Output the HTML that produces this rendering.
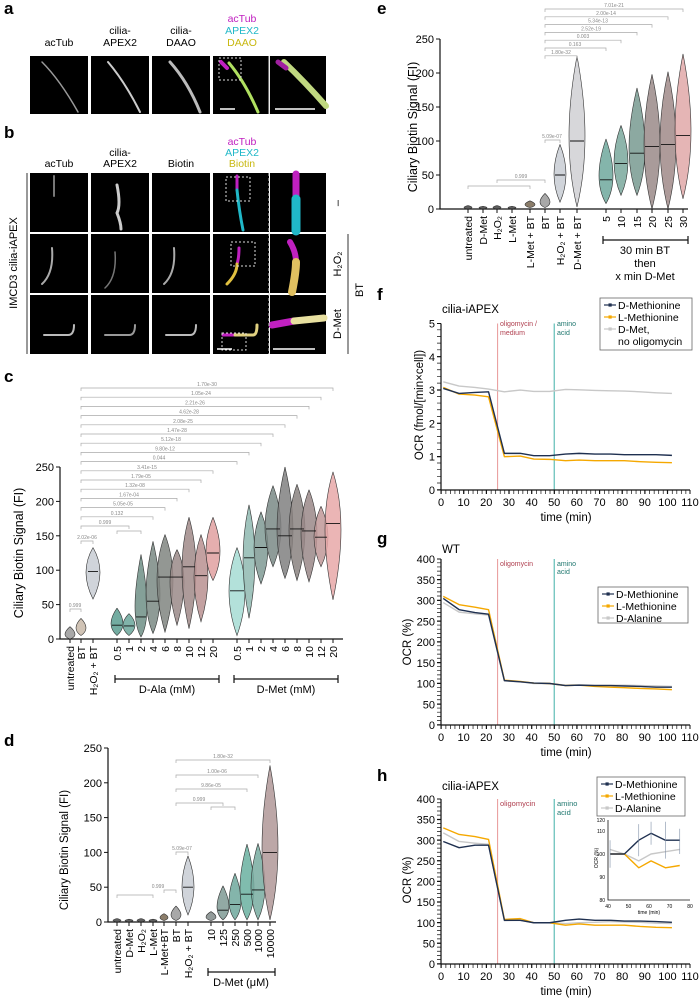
<!DOCTYPE html>
<html><head><meta charset="utf-8"><style>
body{margin:0;background:#fff;}
svg{display:block;font-family:"Liberation Sans","DejaVu Sans",sans-serif;}
.v{stroke:#333;stroke-width:0.6;fill-opacity:0.85;vector-effect:non-scaling-stroke;}
.v path{vector-effect:non-scaling-stroke;}
.ns{vector-effect:non-scaling-stroke;}
.m{stroke:#111;stroke-width:1.3;vector-effect:non-scaling-stroke;fill:none;}
.cp{stroke:#aaa;stroke-width:0.7;fill:none;}
.ct{font-size:5px;fill:#888;text-anchor:middle;}
.ax{stroke:#111;stroke-width:1.2;fill:none;}
.tk{stroke:#111;stroke-width:1;}
.yl{font-size:11px;text-anchor:end;}
.cl{font-size:10.5px;text-anchor:end;}
.xl{font-size:11px;text-anchor:middle;}
.s{fill:none;stroke-width:1.4;vector-effect:non-scaling-stroke;stroke-linejoin:round;}
</style></head><body>
<svg width="700" height="1000" viewBox="0 0 700 1000" xmlns="http://www.w3.org/2000/svg">
<rect width="700" height="1000" fill="#fff"/>
<g font-size="17" font-weight="bold">
<text x="4" y="14">a</text><text x="4" y="138">b</text><text x="4" y="382">c</text><text x="4" y="746">d</text>
<text x="377" y="14">e</text><text x="377" y="300">f</text><text x="377" y="544">g</text><text x="377" y="781">h</text></g>

<!-- panel a -->
<g font-size="10.5" text-anchor="middle">
<text x="59" y="46">acTub</text><text x="120" y="34">cilia-</text><text x="120" y="46">APEX2</text>
<text x="181" y="34">cilia-</text><text x="181" y="46">DAAO</text>
<text x="242" y="22" fill="#c020c0">acTub</text><text x="242" y="34" fill="#20b8c8">APEX2</text><text x="242" y="46" fill="#c8b810">DAAO</text>
</g>
<g fill="#000">
<rect x="30" y="56" width="58" height="58"/><rect x="91" y="56" width="58" height="58"/><rect x="152" y="56" width="58" height="58"/><rect x="213" y="56" width="56" height="58"/><rect x="270" y="56" width="56" height="58"/>
</g>
<g fill="none" stroke-linecap="round">
<path d="M42 62 Q60 80 78 112" stroke="#999" stroke-width="1.5"/>
<path d="M108 62 Q125 82 140 112" stroke="#ccc" stroke-width="2"/>
<path d="M170 62 Q188 82 200 112" stroke="#bbb" stroke-width="3"/>
<path d="M229 63 Q245 82 258 112" stroke="#b0e060" stroke-width="3"/>
<path d="M221 62 l6 6" stroke="#c020c0" stroke-width="4"/>
<path d="M284 62 Q305 82 326 106" stroke="#c0d880" stroke-width="6"/>
<path d="M278 62 l8 6" stroke="#a020a0" stroke-width="5"/>
</g>
<rect x="219" y="58" width="22" height="22" fill="none" stroke="#ddd" stroke-dasharray="2,2"/>
<line x1="269" y1="56" x2="269" y2="114" stroke="#ddd"/>
<line x1="220" y1="109" x2="235" y2="109" stroke="#fff" stroke-width="1.5"/>
<line x1="275" y1="109" x2="315" y2="109" stroke="#fff" stroke-width="1.5"/>

<!-- panel b -->
<g font-size="10.5" text-anchor="middle">
<text x="59" y="167">acTub</text><text x="120" y="156">cilia-</text><text x="120" y="167">APEX2</text><text x="181" y="167">Biotin</text>
<text x="242" y="145" fill="#c020c0">acTub</text><text x="242" y="156" fill="#20b8c8">APEX2</text><text x="242" y="167" fill="#c8b810">Biotin</text>
</g>
<g fill="#000">
<rect x="30" y="173" width="58" height="59"/><rect x="91" y="173" width="58" height="59"/><rect x="152" y="173" width="58" height="59"/><rect x="213" y="173" width="56" height="59"/><rect x="270" y="173" width="56" height="59"/>
<rect x="30" y="234" width="58" height="59"/><rect x="91" y="234" width="58" height="59"/><rect x="152" y="234" width="58" height="59"/><rect x="213" y="234" width="56" height="59"/><rect x="270" y="234" width="56" height="59"/>
<rect x="30" y="295" width="58" height="59"/><rect x="91" y="295" width="58" height="59"/><rect x="152" y="295" width="58" height="59"/><rect x="213" y="295" width="56" height="59"/><rect x="270" y="295" width="56" height="59"/>
</g>
<g fill="none" stroke-linecap="round">
<path d="M54 176 v20" stroke="#777" stroke-width="2"/>
<path d="M117 185 q4 20 0 28 q4 10 4 16" stroke="#ccc" stroke-width="3"/>
<path d="M237 176 v14" stroke="#c020c0" stroke-width="3"/>
<path d="M237 190 q2 20 6 40" stroke="#20b8c8" stroke-width="3"/>
<path d="M296 174 v25" stroke="#c020c0" stroke-width="7"/>
<path d="M296 199 v32" stroke="#20b8c8" stroke-width="9"/>
<path d="M52 248 q2 25 -10 36" stroke="#aaa" stroke-width="2"/>
<path d="M115 252 q2 25 -10 36" stroke="#777" stroke-width="1.5"/>
<path d="M174 248 q2 25 -10 36" stroke="#aaa" stroke-width="2"/>
<path d="M239 248 q0 10 -2 16" stroke="#c020c0" stroke-width="3"/>
<path d="M237 264 q0 10 -10 20" stroke="#e0c040" stroke-width="3"/>
<path d="M290 242 q6 10 6 20" stroke="#c020c0" stroke-width="6"/>
<path d="M296 262 q0 10 -4 30" stroke="#e0c060" stroke-width="8"/>
<path d="M44 335 h24 q6 0 6 -10" stroke="#bbb" stroke-width="2"/>
<path d="M105 335 h24 q6 0 6 -10" stroke="#999" stroke-width="2"/>
<path d="M166 335 h24 q6 0 6 -10" stroke="#bbb" stroke-width="2"/>
<path d="M223 335 h12" stroke="#c020c0" stroke-width="3"/>
<path d="M235 335 h18 q4 0 4 -10" stroke="#e0d080" stroke-width="3"/>
<path d="M272 325 l22 -4" stroke="#c020c0" stroke-width="7"/>
<path d="M294 321 l30 -3" stroke="#e8e0a0" stroke-width="7"/>
</g>
<rect x="226" y="177" width="24" height="24" fill="none" stroke="#ddd" stroke-dasharray="2,2"/>
<rect x="231" y="242" width="24" height="24" fill="none" stroke="#ddd" stroke-dasharray="2,2"/>
<rect x="222" y="333" width="24" height="17" fill="none" stroke="#ddd" stroke-dasharray="2,2"/>
<line x1="269" y1="173" x2="269" y2="354" stroke="#ddd" stroke-dasharray="3,2"/>
<line x1="217" y1="349" x2="232" y2="349" stroke="#fff" stroke-width="1.5"/>
<line x1="273" y1="349" x2="315" y2="349" stroke="#fff" stroke-width="1.5"/>
<line x1="27" y1="173" x2="27" y2="354" stroke="#333"/>
<text font-size="11" text-anchor="middle" transform="translate(17 263) rotate(-90)">IMCD3 cilia-iAPEX</text>
<g font-size="11" text-anchor="middle">
<text transform="translate(341 203) rotate(-90)">–</text>
<text transform="translate(341 264) rotate(-90)">H₂O₂</text>
<text transform="translate(341 324) rotate(-90)">D-Met</text>
<text transform="translate(363 290) rotate(-90)">BT</text></g>
<line x1="348" y1="234" x2="348" y2="354" stroke="#333"/>

<!-- panel c -->
<path class="ax" d="M60 467 V639 H343"/>
<g class="tk"><line x1="56" y1="639" x2="60" y2="639"/><line x1="56" y1="604.6" x2="60" y2="604.6"/><line x1="56" y1="570.2" x2="60" y2="570.2"/><line x1="56" y1="535.8" x2="60" y2="535.8"/><line x1="56" y1="501.4" x2="60" y2="501.4"/><line x1="56" y1="467" x2="60" y2="467"/></g>
<g class="yl" font-size="11.5"><text x="54" y="643">0</text><text x="54" y="608.6">50</text><text x="54" y="574.2">100</text><text x="54" y="539.8">150</text><text x="54" y="505.4">200</text><text x="54" y="471">250</text></g>
<text font-size="12.5" text-anchor="middle" transform="translate(23 553) rotate(-90)">Ciliary Biotin Signal (FI)</text>
<g class="v">
<path transform="translate(70 639) scale(5 -0.688)" d="M0 18 Q2 5 0 0 Q-2 5 0 18" fill="#999"/>
<path transform="translate(81 639) scale(5 -0.688)" d="M0 30 Q2 15 0 5 Q-2 15 0 30" fill="#c8b8a8"/>
<path transform="translate(93 639) scale(7 -0.688)" d="M0 133 Q2 98 0 58 Q-2 98 0 133" fill="#c8ccd4"/>
<path transform="translate(117 639) scale(6 -0.688)" d="M0 45 Q2 20 0 5 Q-2 20 0 45" fill="#5a9e90"/>
<path transform="translate(129 639) scale(6 -0.688)" d="M0 37 Q2 19 0 5 Q-2 19 0 37" fill="#6aa69a"/>
<path transform="translate(141 639) scale(6 -0.688)" d="M0 123 Q2 32 0 3 Q-2 32 0 123" fill="#6f8f86"/>
<path transform="translate(153 639) scale(7 -0.688)" d="M0 142 Q2 55 0 8 Q-2 55 0 142" fill="#7a8a84"/>
<path transform="translate(165 639) scale(8 -0.688)" d="M0 152 Q2 90 0 10 Q-2 90 0 152" fill="#808580"/>
<path transform="translate(177 639) scale(7 -0.688)" d="M0 130 Q2 90 0 20 Q-2 90 0 130" fill="#9a8a88"/>
<path transform="translate(189 639) scale(7 -0.688)" d="M0 177 Q2 105 0 15 Q-2 105 0 177" fill="#a08a88"/>
<path transform="translate(201 639) scale(7 -0.688)" d="M0 152 Q2 92 0 25 Q-2 92 0 152" fill="#b89090"/>
<path transform="translate(213 639) scale(7 -0.688)" d="M0 177 Q2 125 0 85 Q-2 125 0 177" fill="#e0a0a0"/>
<path transform="translate(237 639) scale(8 -0.688)" d="M0 133 Q2 70 0 5 Q-2 70 0 133" fill="#a6dcd4"/>
<path transform="translate(249 639) scale(6 -0.688)" d="M0 195 Q2 118 0 30 Q-2 118 0 195" fill="#8fb8b0"/>
<path transform="translate(261 639) scale(7 -0.688)" d="M0 185 Q2 133 0 80 Q-2 133 0 185" fill="#7f9a94"/>
<path transform="translate(273 639) scale(8 -0.688)" d="M0 223 Q2 160 0 105 Q-2 160 0 223" fill="#7a8a86"/>
<path transform="translate(285 639) scale(8 -0.688)" d="M0 250 Q2 150 0 88 Q-2 150 0 250" fill="#808080"/>
<path transform="translate(297 639) scale(8 -0.688)" d="M0 225 Q2 160 0 85 Q-2 160 0 225" fill="#8a8280"/>
<path transform="translate(309 639) scale(8 -0.688)" d="M0 217 Q2 157 0 83 Q-2 157 0 217" fill="#9a8888"/>
<path transform="translate(321 639) scale(7 -0.688)" d="M0 193 Q2 148 0 105 Q-2 148 0 193" fill="#c09898"/>
<path transform="translate(333 639) scale(8 -0.688)" d="M0 243 Q2 168 0 57 Q-2 168 0 243" fill="#e8a8a8"/>
</g>
<g class="m">
<path transform="translate(0 639) scale(1 -0.688)" d="M88 98 H98 M112 20 H122 M124 19 H134 M136 32 H146 M147 55 H159 M158 90 H172 M171 90 H183 M183 105 H195 M195 92 H207 M207 125 H219 M230 70 H244 M244 118 H254 M255 133 H267 M266 160 H280 M278 150 H292 M290 160 H304 M302 157 H316 M315 148 H327 M326 168 H340"/>
</g>
<g class="tk"><path d="M70 639v4M81 639v4M93 639v4M117 639v4M129 639v4M141 639v4M153 639v4M165 639v4M177 639v4M189 639v4M201 639v4M213 639v4M237 639v4M249 639v4M261 639v4M273 639v4M285 639v4M297 639v4M309 639v4M321 639v4M333 639v4"/></g>
<g class="cl">
<text transform="translate(74 646) rotate(-90)">untreated</text><text transform="translate(85 646) rotate(-90)">BT</text><text transform="translate(97 646) rotate(-90)">H₂O₂ + BT</text>
<text transform="translate(121 646) rotate(-90)">0.5</text><text transform="translate(133 646) rotate(-90)">1</text><text transform="translate(145 646) rotate(-90)">2</text><text transform="translate(157 646) rotate(-90)">4</text><text transform="translate(169 646) rotate(-90)">6</text><text transform="translate(181 646) rotate(-90)">8</text><text transform="translate(193 646) rotate(-90)">10</text><text transform="translate(205 646) rotate(-90)">12</text><text transform="translate(217 646) rotate(-90)">20</text>
<text transform="translate(241 646) rotate(-90)">0.5</text><text transform="translate(253 646) rotate(-90)">1</text><text transform="translate(265 646) rotate(-90)">2</text><text transform="translate(277 646) rotate(-90)">4</text><text transform="translate(289 646) rotate(-90)">6</text><text transform="translate(301 646) rotate(-90)">8</text><text transform="translate(313 646) rotate(-90)">10</text><text transform="translate(325 646) rotate(-90)">12</text><text transform="translate(337 646) rotate(-90)">20</text>
</g>
<path class="ax" d="M115 675v8M115 679H219M219 675v8M234 675v8M234 679H338M338 675v8"/>
<text class="xl" x="167" y="693">D-Ala (mM)</text><text class="xl" x="286" y="693">D-Met (mM)</text>
<g>
<path class="cp" d="M81 391V388H333V391M81 400.2V397.2H321V400.2M81 409.4V406.4H309V409.4M81 418.6V415.6H297V418.6M81 427.8V424.8H285V427.8M81 437V434H273V437M81 446.2V443.2H261V446.2M81 455.4V452.4H249V455.4M81 464.6V461.6H237V464.6M81 473.8V470.8H213V473.8M81 483V480H201V483M81 492.2V489.2H189V492.2M81 501.4V498.4H177V501.4M81 510.6V507.6H165V510.6M81 519.8V516.8H153V519.8M81 529V526H129V529M117 534V531H141V534M81 544V541H93V544M70 612V609H81V612"/>
<g class="ct"><text x="207" y="386">1.70e-30</text><text x="201" y="395.2">1.05e-24</text><text x="195" y="404.4">2.21e-26</text><text x="189" y="413.6">4.62e-28</text><text x="183" y="422.8">2.08e-25</text><text x="177" y="432">1.47e-28</text><text x="171" y="441.2">5.12e-18</text><text x="165" y="450.4">9.80e-12</text><text x="159" y="459.6">0.044</text><text x="147" y="468.8">3.41e-15</text><text x="141" y="478">1.79e-05</text><text x="135" y="487.2">1.32e-08</text><text x="129" y="496.4">1.67e-04</text><text x="123" y="505.6">5.05e-05</text><text x="117" y="514.8">0.132</text><text x="105" y="524">0.999</text><text x="87" y="539">2.02e-06</text><text x="75" y="607">0.999</text></g>
</g>

<!-- panel d -->
<path class="ax" d="M108 748 V922 H276"/>
<g class="tk"><line x1="104" y1="922" x2="108" y2="922"/><line x1="104" y1="887.2" x2="108" y2="887.2"/><line x1="104" y1="852.4" x2="108" y2="852.4"/><line x1="104" y1="817.6" x2="108" y2="817.6"/><line x1="104" y1="782.8" x2="108" y2="782.8"/><line x1="104" y1="748" x2="108" y2="748"/></g>
<g class="yl"><text x="102" y="926">0</text><text x="102" y="891.2">50</text><text x="102" y="856.4">100</text><text x="102" y="821.6">150</text><text x="102" y="786.8">200</text><text x="102" y="752">250</text></g>
<text font-size="11.5" text-anchor="middle" transform="translate(68 850) rotate(-90)">Ciliary Biotin Signal (FI)</text>
<g class="v">
<path transform="translate(117 922) scale(4 -0.696)" d="M0 5 Q2 2 0 0 Q-2 2 0 5" fill="#444"/>
<path transform="translate(129 922) scale(4 -0.696)" d="M0 4 Q2 2 0 0 Q-2 2 0 4" fill="#444"/>
<path transform="translate(141 922) scale(4 -0.696)" d="M0 5 Q2 2 0 0 Q-2 2 0 5" fill="#444"/>
<path transform="translate(153 922) scale(4 -0.696)" d="M0 4 Q2 2 0 0 Q-2 2 0 4" fill="#444"/>
<path transform="translate(164 922) scale(4 -0.696)" d="M0 12 Q2 6 0 2 Q-2 6 0 12" fill="#776650"/>
<path transform="translate(176 922) scale(5 -0.696)" d="M0 23 Q2 8 0 2 Q-2 8 0 23" fill="#999"/>
<path transform="translate(188 922) scale(6 -0.696)" d="M0 95 Q2 50 0 10 Q-2 50 0 95" fill="#c8ccd4"/>
<path transform="translate(211 922) scale(5 -0.696)" d="M0 15 Q2 6 0 2 Q-2 6 0 15" fill="#808a88"/>
<path transform="translate(223 922) scale(6 -0.696)" d="M0 52 Q2 17 0 3 Q-2 17 0 52" fill="#7f9a94"/>
<path transform="translate(235 922) scale(6 -0.696)" d="M0 70 Q2 25 0 3 Q-2 25 0 70" fill="#6ea89c"/>
<path transform="translate(247 922) scale(7 -0.696)" d="M0 112 Q2 40 0 3 Q-2 40 0 112" fill="#6ab0a0"/>
<path transform="translate(258 922) scale(7 -0.696)" d="M0 113 Q2 46 0 3 Q-2 46 0 113" fill="#78aca0"/>
<path transform="translate(270 922) scale(8 -0.696)" d="M0 225 Q2 100 0 3 Q-2 100 0 225" fill="#b09898"/>
</g>
<g class="m"><path transform="translate(0 922) scale(1 -0.696)" d="M183 50 H193 M218 17 H228 M230 25 H240 M241 40 H253 M252 46 H264 M263 100 H277"/></g>
<g class="tk"><path d="M117 922v4M129 922v4M141 922v4M153 922v4M164 922v4M176 922v4M188 922v4M211 922v4M223 922v4M235 922v4M247 922v4M258 922v4M270 922v4"/></g>
<g class="cl">
<text transform="translate(121 929) rotate(-90)">untreated</text><text transform="translate(133 929) rotate(-90)">D-Met</text><text transform="translate(145 929) rotate(-90)">H₂O₂</text><text transform="translate(157 929) rotate(-90)">L-Met</text><text transform="translate(168 929) rotate(-90)">L-Met+BT</text><text transform="translate(180 929) rotate(-90)">BT</text><text transform="translate(192 929) rotate(-90)">H₂O₂ + BT</text>
<text transform="translate(215 929) rotate(-90)">10</text><text transform="translate(227 929) rotate(-90)">125</text><text transform="translate(239 929) rotate(-90)">250</text><text transform="translate(251 929) rotate(-90)">500</text><text transform="translate(262 929) rotate(-90)">1000</text><text transform="translate(274 929) rotate(-90)">10000</text>
</g>
<path class="ax" d="M208 968v8M208 972H275M275 968v8"/>
<text class="xl" x="241" y="986">D-Met (μM)</text>
<path class="cp" d="M176 763V760H270V763M176 778V775H258V778M176 792V789H247V792M176 806V803H223V806M211 810V807H235V810M176 855V852H188V855M164 893V890H176V893M117 898V895H153V898"/>
<g class="ct"><text x="223" y="758">1.80e-32</text><text x="217" y="773">1.00e-06</text><text x="211" y="787">9.86e-05</text><text x="199" y="801">0.999</text><text x="182" y="850">5.09e-07</text><text x="158" y="888">0.999</text></g>

<!-- panel e -->
<path class="ax" d="M440 39 V209 H688"/>
<g class="tk"><line x1="436" y1="209" x2="440" y2="209"/><line x1="436" y1="175" x2="440" y2="175"/><line x1="436" y1="141" x2="440" y2="141"/><line x1="436" y1="107" x2="440" y2="107"/><line x1="436" y1="73" x2="440" y2="73"/><line x1="436" y1="39" x2="440" y2="39"/></g>
<g class="yl" font-size="11.5"><text x="434" y="213">0</text><text x="434" y="179">50</text><text x="434" y="145">100</text><text x="434" y="111">150</text><text x="434" y="77">200</text><text x="434" y="43">250</text></g>
<text font-size="12.5" text-anchor="middle" transform="translate(417 127) rotate(-90)">Ciliary Biotin Signal (FI)</text>
<g class="v">
<path transform="translate(468 209) scale(4 -0.68)" d="M0 5 Q2 2 0 0 Q-2 2 0 5" fill="#444"/>
<path transform="translate(483 209) scale(4 -0.68)" d="M0 4 Q2 2 0 0 Q-2 2 0 4" fill="#444"/>
<path transform="translate(497 209) scale(4 -0.68)" d="M0 5 Q2 2 0 0 Q-2 2 0 5" fill="#444"/>
<path transform="translate(512 209) scale(4 -0.68)" d="M0 4 Q2 2 0 0 Q-2 2 0 4" fill="#444"/>
<path transform="translate(530 209) scale(5 -0.68)" d="M0 12 Q2 6 0 2 Q-2 6 0 12" fill="#776650"/>
<path transform="translate(545 209) scale(5 -0.68)" d="M0 23 Q2 8 0 2 Q-2 8 0 23" fill="#999"/>
<path transform="translate(560 209) scale(6 -0.68)" d="M0 95 Q2 50 0 10 Q-2 50 0 95" fill="#c8ccd4"/>
<path transform="translate(577 209) scale(8 -0.68)" d="M0 225 Q2 100 0 3 Q-2 100 0 225" fill="#d0d0d4"/>
<path transform="translate(606 209) scale(7 -0.68)" d="M0 103 Q2 43 0 8 Q-2 43 0 103" fill="#6ea89c"/>
<path transform="translate(621 209) scale(7 -0.68)" d="M0 123 Q2 67 0 20 Q-2 67 0 123" fill="#7aa89c"/>
<path transform="translate(637 209) scale(8 -0.68)" d="M0 178 Q2 82 0 20 Q-2 82 0 178" fill="#789a90"/>
<path transform="translate(652 209) scale(8 -0.68)" d="M0 198 Q2 92 0 0 Q-2 92 0 198" fill="#9a8a88"/>
<path transform="translate(668 209) scale(8 -0.68)" d="M0 202 Q2 95 0 0 Q-2 95 0 202" fill="#a08a88"/>
<path transform="translate(683 209) scale(8 -0.68)" d="M0 228 Q2 108 0 15 Q-2 108 0 228" fill="#e0a8a8"/>
</g>
<g class="m"><path transform="translate(0 209) scale(1 -0.68)" d="M555 50 H565 M570 100 H584 M600 43 H612 M615 67 H627 M630 82 H644 M645 92 H659 M661 95 H675 M676 108 H690"/></g>
<g class="tk"><path d="M468 209v4M483 209v4M497 209v4M512 209v4M530 209v4M545 209v4M560 209v4M577 209v4M606 209v4M621 209v4M637 209v4M652 209v4M668 209v4M683 209v4"/></g>
<g class="cl">
<text transform="translate(472 216) rotate(-90)">untreated</text><text transform="translate(487 216) rotate(-90)">D-Met</text><text transform="translate(501 216) rotate(-90)">H₂O₂</text><text transform="translate(516 216) rotate(-90)">L-Met</text><text transform="translate(534 216) rotate(-90)">L-Met + BT</text><text transform="translate(549 216) rotate(-90)">BT</text><text transform="translate(564 216) rotate(-90)">H₂O₂ + BT</text><text transform="translate(581 216) rotate(-90)">D-Met + BT</text>
<text transform="translate(610 216) rotate(-90)">5</text><text transform="translate(625 216) rotate(-90)">10</text><text transform="translate(641 216) rotate(-90)">15</text><text transform="translate(656 216) rotate(-90)">20</text><text transform="translate(672 216) rotate(-90)">25</text><text transform="translate(687 216) rotate(-90)">30</text>
</g>
<path class="ax" d="M603 236v8M603 240H688M688 236v8"/>
<g class="xl"><text x="645" y="254">30 min BT</text><text x="645" y="267">then</text><text x="645" y="280">x min D-Met</text></g>
<path class="cp" d="M545 12V9H683V12M545 19.8V16.8H668V19.8M545 27.6V24.6H652V27.6M545 35.4V32.4H637V35.4M545 43.2V40.2H621V43.2M545 51V48H606V51M545 58.8V55.8H577V58.8M545 143V140H560V143M497 183V180H545V183M468 189V186H530V189"/>
<g class="ct"><text x="614" y="7">7.01e-21</text><text x="606" y="14.8">2.00e-14</text><text x="598" y="22.6">5.34e-13</text><text x="591" y="30.4">2.52e-19</text><text x="583" y="38.2">0.003</text><text x="575" y="46">0.163</text><text x="561" y="53.8">1.80e-32</text><text x="552" y="138">5.09e-07</text><text x="521" y="178">0.999</text></g>

<!-- panel f -->
<text x="442" y="313" font-size="11.5">cilia-iAPEX</text>
<line x1="497.6" y1="323.5" x2="497.6" y2="490" stroke="#e89898"/>
<line x1="554.2" y1="323.5" x2="554.2" y2="490" stroke="#40b0a8"/>
<g font-size="7"><text x="500" y="326" fill="#b04050">oligomycin /</text><text x="500" y="335" fill="#b04050">medium</text><text x="557" y="326" fill="#207870">amino</text><text x="557" y="335" fill="#207870">acid</text></g>
<g transform="translate(441 490) scale(2.264 -33.3)">
<polyline class="s" stroke="#c8c8c8" points="1,3.25 8,3.12 15,3.08 21,3.03 28,2.95 35,3.0 41,2.96 48,2.96 55,3.02 61,3.01 68,2.99 75,2.98 81,2.97 88,2.95 95,2.92 102,2.9"/>
<polyline class="s" stroke="#f5a800" points="1,3.08 8,2.88 15,2.85 21,2.8 28,1.0 35,1.02 41,0.93 48,0.92 55,0.88 61,0.9 68,0.88 75,0.88 81,0.88 88,0.85 95,0.83 102,0.82"/>
<polyline class="s" stroke="#1f3050" points="1,3.05 8,2.9 15,2.93 21,2.95 28,1.1 35,1.1 41,1.03 48,1.03 55,1.08 61,1.1 68,1.08 75,1.08 81,1.06 88,1.06 95,1.06 102,1.04"/>
</g>
<path class="ax" d="M441 323.5 V490 H690"/>
<line x1="441" y1="492" x2="690" y2="492" stroke="#111" stroke-width="4" stroke-dasharray="0.7 3.828"/>
<line x1="439" y1="490" x2="439" y2="323.5" stroke="#111" stroke-width="4" stroke-dasharray="0.7 5.96"/>
<g class="tk"><path d="M437 490h4M437 456.7h4M437 423.4h4M437 390.1h4M437 356.8h4M437 323.5h4M441 490v4M463.6 490v4M486.3 490v4M508.9 490v4M531.6 490v4M554.2 490v4M576.8 490v4M599.5 490v4M622.1 490v4M644.8 490v4M667.4 490v4M690 490v4"/></g>
<g class="yl"><text x="435" y="494">0</text><text x="435" y="460.7">1</text><text x="435" y="427.4">2</text><text x="435" y="394.1">3</text><text x="435" y="360.8">4</text><text x="435" y="327.5">5</text></g>
<g class="xl"><text x="441" y="506">0</text><text x="463.6" y="506">10</text><text x="486.3" y="506">20</text><text x="508.9" y="506">30</text><text x="531.6" y="506">40</text><text x="554.2" y="506">50</text><text x="576.8" y="506">60</text><text x="599.5" y="506">70</text><text x="622.1" y="506">80</text><text x="644.8" y="506">90</text><text x="667.4" y="506">100</text><text x="690" y="506">110</text></g>
<text x="566" y="521" font-size="11.5" text-anchor="middle">time (min)</text>
<text font-size="11.5" text-anchor="middle" transform="translate(423 405) rotate(-90)">OCR (fmol/[min×cell])</text>
<rect x="600" y="298" width="92" height="52" fill="#fff" stroke="#666" stroke-width="0.8"/>
<g font-size="10.5"><line x1="604" y1="305" x2="616" y2="305" stroke="#1f3050" stroke-width="1.2"/><rect x="608.5" y="303.4" width="3.2" height="3.2" fill="#1f3050"/><text x="618" y="309">D-Methionine</text>
<line x1="604" y1="317" x2="616" y2="317" stroke="#f5a800" stroke-width="1.2"/><rect x="608.5" y="315.4" width="3.2" height="3.2" fill="#f5a800"/><text x="618" y="321">L-Methionine</text>
<line x1="604" y1="329" x2="616" y2="329" stroke="#c8c8c8" stroke-width="1.2"/><rect x="608.5" y="327.4" width="3.2" height="3.2" fill="#c8c8c8"/><text x="618" y="333">D-Met,</text><text x="618" y="345">no oligomycin</text></g>

<!-- panel g -->
<text x="442" y="553" font-size="11.5">WT</text>
<line x1="497.6" y1="559" x2="497.6" y2="725" stroke="#e89898"/>
<line x1="554.2" y1="559" x2="554.2" y2="725" stroke="#40b0a8"/>
<g font-size="7"><text x="500" y="566" fill="#b04050">oligomycin</text><text x="557" y="566" fill="#207870">amino</text><text x="557" y="574" fill="#207870">acid</text></g>
<g transform="translate(441 725) scale(2.264 -0.415)">
<polyline class="s" stroke="#c8c8c8" points="1,295 8,272 15,268 21,265 28,106 35,104 41,100 48,100 55,96 61,97 68,96 75,96 81,96 88,95 95,94 102,93"/>
<polyline class="s" stroke="#f5a800" points="1,310 8,290 15,284 21,278 28,108 35,105 41,101 48,100 55,95 61,96 68,93 75,91 81,90 88,88 95,87 102,85"/>
<polyline class="s" stroke="#1f3050" points="1,305 8,278 15,271 21,267 28,107 35,104 41,101 48,100 55,95 61,96 68,95 75,95 81,94 88,93 95,91 102,91"/>
</g>
<path class="ax" d="M441 559 V725 H690"/>
<line x1="441" y1="727" x2="690" y2="727" stroke="#111" stroke-width="4" stroke-dasharray="0.7 3.828"/>
<line x1="439" y1="725" x2="439" y2="559" stroke="#111" stroke-width="4" stroke-dasharray="0.7 3.45"/>
<g class="tk"><path d="M437 725h4M437 704.25h4M437 683.5h4M437 662.75h4M437 642h4M437 621.25h4M437 600.5h4M437 579.75h4M437 559h4M441 725v4M463.6 725v4M486.3 725v4M508.9 725v4M531.6 725v4M554.2 725v4M576.8 725v4M599.5 725v4M622.1 725v4M644.8 725v4M667.4 725v4M690 725v4"/></g>
<g class="yl"><text x="435" y="729">0</text><text x="435" y="708.25">50</text><text x="435" y="687.5">100</text><text x="435" y="666.75">150</text><text x="435" y="646">200</text><text x="435" y="625.25">250</text><text x="435" y="604.5">300</text><text x="435" y="583.75">350</text><text x="435" y="563">400</text></g>
<g class="xl"><text x="441" y="741">0</text><text x="463.6" y="741">10</text><text x="486.3" y="741">20</text><text x="508.9" y="741">30</text><text x="531.6" y="741">40</text><text x="554.2" y="741">50</text><text x="576.8" y="741">60</text><text x="599.5" y="741">70</text><text x="622.1" y="741">80</text><text x="644.8" y="741">90</text><text x="667.4" y="741">100</text><text x="690" y="741">110</text></g>
<text x="566" y="756" font-size="11.5" text-anchor="middle">time (min)</text>
<text font-size="11.5" text-anchor="middle" transform="translate(411 642) rotate(-90)">OCR (%)</text>
<rect x="598" y="587" width="90" height="36" fill="#fff" stroke="#666" stroke-width="0.8"/>
<g font-size="10.5"><line x1="602" y1="594" x2="614" y2="594" stroke="#1f3050" stroke-width="1.2"/><rect x="606.5" y="592.4" width="3.2" height="3.2" fill="#1f3050"/><text x="616" y="598">D-Methionine</text>
<line x1="602" y1="606" x2="614" y2="606" stroke="#f5a800" stroke-width="1.2"/><rect x="606.5" y="604.4" width="3.2" height="3.2" fill="#f5a800"/><text x="616" y="610">L-Methionine</text>
<line x1="602" y1="618" x2="614" y2="618" stroke="#c8c8c8" stroke-width="1.2"/><rect x="606.5" y="616.4" width="3.2" height="3.2" fill="#c8c8c8"/><text x="616" y="622">D-Alanine</text></g>

<!-- panel h -->
<text x="442" y="790" font-size="11.5">cilia-iAPEX</text>
<line x1="497.6" y1="799" x2="497.6" y2="964" stroke="#e89898"/>
<line x1="554.2" y1="799" x2="554.2" y2="964" stroke="#40b0a8"/>
<g font-size="7.5"><text x="500" y="806" fill="#b04050">oligomycin</text><text x="557" y="806" fill="#207870">amino</text><text x="557" y="815" fill="#207870">acid</text></g>
<g transform="translate(441 964) scale(2.264 -0.4125)">
<polyline class="s" stroke="#c8c8c8" points="1,318 8,297 15,293 21,290 28,105 35,106 41,100 48,100 55,98 61,100 68,101 75,103 81,102 88,101 95,99 102,98"/>
<polyline class="s" stroke="#f5a800" points="1,330 8,314 15,309 21,302 28,108 35,110 41,100 48,100 55,94 61,97 68,94 75,94 81,94 88,91 95,89 102,88"/>
<polyline class="s" stroke="#1f3050" points="1,297 8,282 15,288 21,288 28,106 35,106 41,100 48,100 55,106 61,109 68,106 75,106 81,104 88,104 95,103 102,101"/>
</g>
<path class="ax" d="M441 799 V964 H690"/>
<line x1="441" y1="966" x2="690" y2="966" stroke="#111" stroke-width="4" stroke-dasharray="0.7 3.828"/>
<line x1="439" y1="964" x2="439" y2="799" stroke="#111" stroke-width="4" stroke-dasharray="0.7 3.425"/>
<g class="tk"><path d="M437 964h4M437 943.4h4M437 922.75h4M437 902.1h4M437 881.5h4M437 860.9h4M437 840.25h4M437 819.6h4M437 799h4M441 964v4M463.6 964v4M486.3 964v4M508.9 964v4M531.6 964v4M554.2 964v4M576.8 964v4M599.5 964v4M622.1 964v4M644.8 964v4M667.4 964v4M690 964v4"/></g>
<g class="yl"><text x="435" y="968">0</text><text x="435" y="947.4">50</text><text x="435" y="926.75">100</text><text x="435" y="906.1">150</text><text x="435" y="885.5">200</text><text x="435" y="864.9">250</text><text x="435" y="844.25">300</text><text x="435" y="823.6">350</text><text x="435" y="803">400</text></g>
<g class="xl"><text x="441" y="980">0</text><text x="463.6" y="980">10</text><text x="486.3" y="980">20</text><text x="508.9" y="980">30</text><text x="531.6" y="980">40</text><text x="554.2" y="980">50</text><text x="576.8" y="980">60</text><text x="599.5" y="980">70</text><text x="622.1" y="980">80</text><text x="644.8" y="980">90</text><text x="667.4" y="980">100</text><text x="690" y="980">110</text></g>
<text x="566" y="995" font-size="11.5" text-anchor="middle">time (min)</text>
<text font-size="11.5" text-anchor="middle" transform="translate(411 880) rotate(-90)">OCR (%)</text>
<rect x="597" y="777" width="88" height="39" fill="#fff" stroke="#666" stroke-width="0.8"/>
<g font-size="10.5"><line x1="601" y1="784" x2="613" y2="784" stroke="#1f3050" stroke-width="1.2"/><rect x="605.5" y="782.4" width="3.2" height="3.2" fill="#1f3050"/><text x="615" y="788">D-Methionine</text>
<line x1="601" y1="796" x2="613" y2="796" stroke="#f5a800" stroke-width="1.2"/><rect x="605.5" y="794.4" width="3.2" height="3.2" fill="#f5a800"/><text x="615" y="800">L-Methionine</text>
<line x1="601" y1="808" x2="613" y2="808" stroke="#c8c8c8" stroke-width="1.2"/><rect x="605.5" y="806.4" width="3.2" height="3.2" fill="#c8c8c8"/><text x="615" y="812">D-Alanine</text></g>
<!-- inset -->
<g transform="translate(608 900) scale(2.05 -2.3) translate(-40 -80)">
<polyline class="s" stroke="#c8c8c8" stroke-width="1" points="41,102 48,100 55,97 61,100 68,101 75,102"/>
<polyline class="s" stroke="#f5a800" stroke-width="1" points="41,100 48,100 55,94 61,97 68,94 75,95"/>
<polyline class="s" stroke="#1f3050" stroke-width="1" points="41,100 48,100 55,106 61,109 68,106 75,106"/>
<path class="ns" stroke="#8090a8" stroke-width="0.6" fill="none" d="M41 94V106M55 99V113M61 104V114M68 98V114M75 100V111"/>
</g>
<path d="M608 820 V900 H690" fill="none" stroke="#111" stroke-width="0.8"/>
<g font-size="5" text-anchor="end"><text x="605" y="902">80</text><text x="605" y="879">90</text><text x="605" y="856">100</text><text x="605" y="833">110</text><text x="605" y="822">120</text></g>
<g font-size="5" text-anchor="middle"><text x="608" y="908">40</text><text x="628.5" y="908">50</text><text x="649" y="908">60</text><text x="669.5" y="908">70</text><text x="690" y="908">80</text><text x="649" y="914">time (min)</text></g>
<text font-size="5" text-anchor="middle" transform="translate(598 858) rotate(-90)">OCR (%)</text>
</svg>
</body></html>
